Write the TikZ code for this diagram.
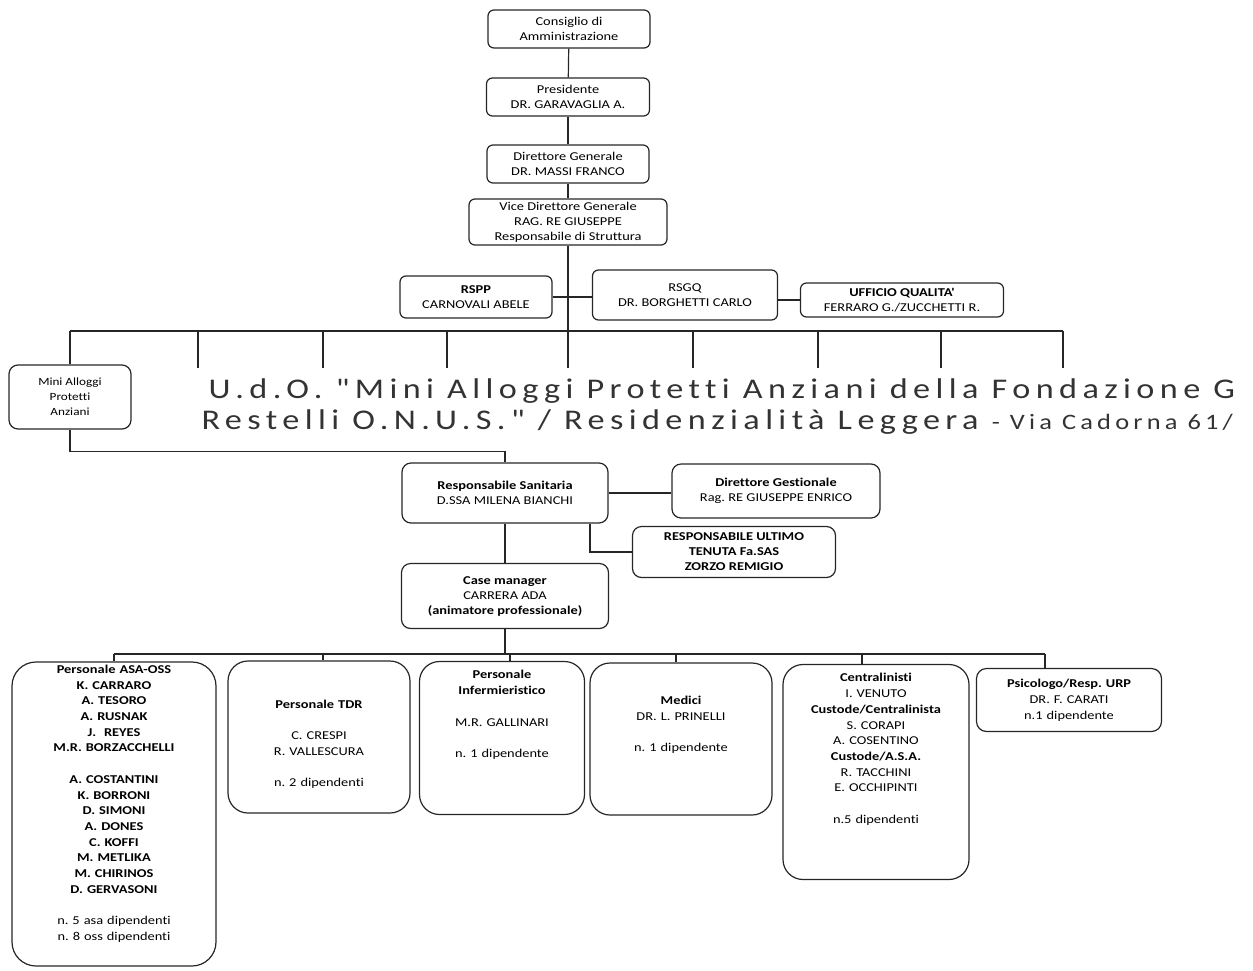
\documentclass[tikz,border=0pt]{standalone}
\usepackage{fontspec}
\newfontfamily\orgfont{Carlito}[FakeStretch=1.2,Ligatures=NoCommon]
\newfontfamily\udofont{Carlito}[FakeStretch=1.2,LetterSpace=19,Ligatures=NoCommon]
\usetikzlibrary{positioning}
\frenchspacing

% text of a unit box: fixed height, lines hang from the top
\newcommand{\unittext}[2]{\parbox[c][#1pt][t]{\linewidth}{\centering #2}}
\newcommand{\gapline}{\\[15.7pt]}

\begin{document}
\begin{tikzpicture}[x=1pt,y=-1pt,line width=1.2pt,
    post/.style={draw=black!85,rounded corners=6pt,align=center,inner sep=2pt,
        font=\orgfont\fontsize{12}{15}\selectfont},
    staff/.style={post,rounded corners=9pt},
    unit/.style={draw=black!85,rounded corners=20pt,inner sep=3pt,
        font=\orgfont\fontsize{12}{15.7}\selectfont},
    link/.style={draw=black!85}]
    \useasboundingbox (0,0) rectangle (1253,970);

    % board and direction
    \node[post,minimum width=162,minimum height=38] (cda) at (569,29) {Consiglio di\\Amministrazione};
    \node[post,minimum width=163,minimum height=38] (pres) at (568,97) {Presidente\\DR. GARAVAGLIA A.};
    \node[post,minimum width=162,minimum height=38] (dg) at (568,164) {Direttore Generale\\DR. MASSI FRANCO};
    \node[post,minimum width=198,minimum height=46] (vdg) at (568,222) {Vice Direttore Generale\\RAG. RE GIUSEPPE\\Responsabile di Struttura};
    \draw[link] (cda) -- (pres);
    \draw[link] (pres) -- (dg);
    \draw[link] (dg) -- (vdg);

    % staff offices
    \node[post,minimum width=152,minimum height=42] (rspp) at (476,297) {\textbf{RSPP}\\CARNOVALI ABELE};
    \node[post,minimum width=185,minimum height=50] (rsgq) at (685,295) {RSGQ\\DR. BORGHETTI CARLO};
    \node[post,minimum width=203,minimum height=34] (uq) at (902,300) {\textbf{UFFICIO QUALITA'}\\FERRARO G./ZUCCHETTI R.};
    \draw[link] (rspp.east) -- (rspp.east -| rsgq.west);
    \draw[link] (rsgq.east |- uq.west) -- (uq.west);

    % first bus
    \coordinate (busL) at (70,331);
    \coordinate (busR) at (1063,331);
    \draw[link] (vdg.south) -- (vdg.south |- busL);
    \draw[link] (busL) -- (busR);
    \foreach \x [count=\i] in {198,323,447,568,693,818,941,1063} {
        \coordinate (drop\i) at (\x,368);
        \draw[link] (drop\i |- busL) -- (drop\i);
    }

    % residence
    \node[post,minimum width=122,minimum height=64,rounded corners=9pt,
        font=\orgfont\fontsize{11}{15}\selectfont] (mini) at (70,397) {Mini Alloggi\\Protetti\\Anziani};
    \draw[link] (busL) -- (mini.north);
    \node[anchor=base west,inner sep=0,text=black!80,font=\udofont\fontsize{28.5}{34}\selectfont]
        (udoA) at (208,398) {U.d.O. "Mini Alloggi Protetti Anziani della Fondazione G};
    \node[anchor=base west,inner sep=0,text=black!80,font=\udofont\fontsize{28.5}{34}\selectfont]
        (udoB) at (201,429) {Restelli O.N.U.S." / Residenzialità Leggera {\fontsize{22}{26}\selectfont - Via Cadorna 61/}};

    % health management
    \node[staff,minimum width=206,minimum height=60] (resp) at (505,493) {\textbf{Responsabile Sanitaria}\\D.SSA MILENA BIANCHI};
    \node[staff,minimum width=208,minimum height=54] (dgest) at (776,491) {\textbf{Direttore Gestionale}\\Rag. RE GIUSEPPE ENRICO};
    \node[staff,minimum width=203,minimum height=51] (rult) at (734,552) {\textbf{RESPONSABILE ULTIMO}\\\textbf{TENUTA Fa.SAS}\\\textbf{ZORZO REMIGIO}};
    \node[staff,minimum width=207,minimum height=65] (case) at (505,596) {\textbf{Case manager}\\CARRERA ADA\\\textbf{(animatore professionale)}};
    \draw[link] (mini.south) -- ++(0,22) -| (resp.north);
    \draw[link] (resp.east) -- (resp.east -| dgest.west);
    \draw[link] ([xshift=85]resp.south) |- (rult.west);
    \draw[link] (resp) -- (case);

    % staff units
    \node[unit,text width=198,rounded corners=24pt] (asa) at (114,814) {\unittext{298}{\bfseries Personale ASA-OSS\\K. CARRARO\\A. TESORO\\A. RUSNAK\\J.~~REYES\\M.R. BORZACCHELLI\gapline
        A. COSTANTINI\\K. BORRONI\\D. SIMONI\\A. DONES\\C. KOFFI\\M. METLIKA\\M. CHIRINOS\\D. GERVASONI\gapline
        \mdseries n. 5 asa dipendenti\\n. 8 oss dipendenti}};
    \node[unit,text width=176] (tdr) at (319,737) {\unittext{146}{\vspace*{36pt}\textbf{Personale TDR}\gapline C. CRESPI\\R. VALLESCURA\gapline n. 2 dipendenti}};
    \node[unit,text width=159] (inf) at (502,738) {\unittext{147}{\vspace*{6pt}\textbf{Personale}\\\textbf{Infermieristico}\gapline M.R. GALLINARI\gapline n. 1 dipendente}};
    \node[unit,text width=176] (med) at (681,739) {\unittext{146}{\vspace*{30pt}\textbf{Medici}\\DR. L. PRINELLI\gapline n. 1 dipendente}};
    \node[unit,text width=180] (cent) at (876,772) {\unittext{209}{\vspace*{6pt}\textbf{Centralinisti}\\I. VENUTO\\\textbf{Custode/Centralinista}\\S. CORAPI\\A. COSENTINO\\\textbf{Custode/A.S.A.}\\R. TACCHINI\\E. OCCHIPINTI\gapline n.5 dipendenti}};
    \node[unit,text width=179,rounded corners=10pt] (psi) at (1069,700) {\unittext{57}{\vspace*{8pt}\textbf{Psicologo/Resp. URP}\\DR. F. CARATI\\n.1 dipendente}};

    % second bus
    \coordinate (bus2) at (505,654);
    \draw[link] (case.south) -- (bus2);
    \draw[link] (asa.north |- bus2) -- ([xshift=-24]psi.north |- bus2);
    \draw[link] (asa.north |- bus2) -- (asa.north);
    \draw[link] ([xshift=4]tdr.north |- bus2) -- ([xshift=4]tdr.north);
    \draw[link] ([xshift=8]inf.north |- bus2) -- ([xshift=8]inf.north);
    \draw[link] ([xshift=-5]med.north |- bus2) -- ([xshift=-5]med.north);
    \draw[link] ([xshift=-14]cent.north |- bus2) -- ([xshift=-14]cent.north);
    \draw[link] ([xshift=-24]psi.north |- bus2) -- ([xshift=-24]psi.north);
\end{tikzpicture}
\end{document}
